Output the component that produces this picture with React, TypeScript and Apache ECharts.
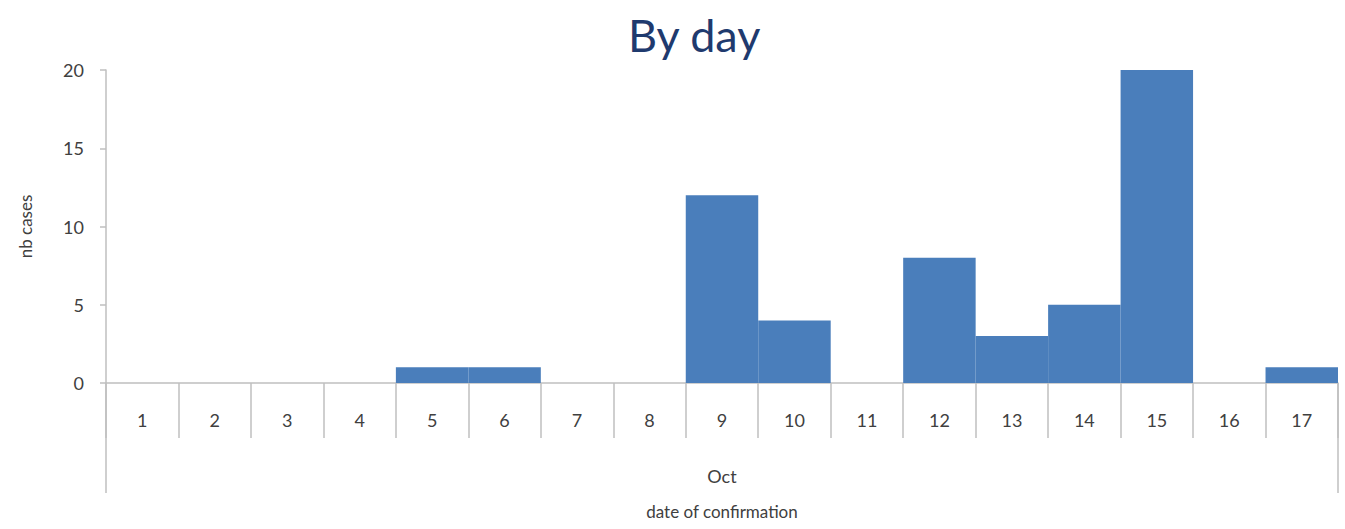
import React, { useEffect, useRef } from "react";
import * as echarts from "echarts";

const days = ["1", "2", "3", "4", "5", "6", "7", "8", "9", "10", "11", "12", "13", "14", "15", "16", "17"];
const cases = [0, 0, 0, 0, 1, 1, 0, 0, 12, 4, 0, 8, 3, 5, 20, 0, 1];
const monthGroup = ["Oct"];
const yTicks = { min: 0, max: 20, interval: 5 };

const FONT = "Lato, 'Open Sans', sans-serif";
const AXIS_GREY = "#BFBFBF";
const TEXT_GREY = "#404040";
const BAR_BLUE = "#4A7EBB";

export default function App() {
  const ref = useRef<HTMLDivElement>(null);
  useEffect(() => {
    if (!ref.current) return;
    const chart = echarts.init(ref.current, undefined, { renderer: "svg" });
    chart.setOption({
      animation: false,
      backgroundColor: "#ffffff",
      title: {
        text: "By day",
        left: 623,
        top: 7,
        textStyle: { color: "#1F3A6E", fontSize: 45, fontWeight: "normal", fontFamily: FONT },
      },
      grid: { left: 106, right: 7, top: 70, bottom: 146, containLabel: false },
      xAxis: [
        {
          type: "category",
          data: days,
          position: "bottom",
          boundaryGap: true,
          axisLine: { show: true, lineStyle: { color: AXIS_GREY, width: 1.5 } },
          axisTick: { show: true, interval: 0, length: 55, lineStyle: { color: AXIS_GREY, width: 1.5 } },
          axisLabel: { interval: 0, margin: 28, color: TEXT_GREY, fontSize: 18, fontFamily: FONT },
        },
        {
          type: "category",
          data: monthGroup,
          position: "bottom",
          boundaryGap: true,
          axisLine: { show: false },
          axisTick: { show: true, interval: 0, length: 110, lineStyle: { color: AXIS_GREY, width: 1.5 } },
          axisLabel: { interval: 0, margin: 84, color: TEXT_GREY, fontSize: 18, fontFamily: FONT },
          name: "date of confirmation",
          nameLocation: "middle",
          nameGap: 120,
          nameTextStyle: { color: TEXT_GREY, fontSize: 17, fontFamily: FONT },
        },
      ],
      yAxis: {
        type: "value",
        min: yTicks.min,
        max: yTicks.max,
        interval: yTicks.interval,
        splitLine: { show: false },
        axisLine: { show: true, lineStyle: { color: AXIS_GREY, width: 1.5 } },
        axisTick: { show: true, length: 6, lineStyle: { color: AXIS_GREY, width: 1.5 } },
        axisLabel: { margin: 22, color: TEXT_GREY, fontSize: 18, fontFamily: FONT },
        name: "nb cases",
        nameLocation: "middle",
        nameRotate: 90,
        nameGap: 72,
        nameTextStyle: { color: TEXT_GREY, fontSize: 17, fontFamily: FONT },
      },
      series: [
        {
          type: "bar",
          data: cases,
          xAxisIndex: 0,
          barCategoryGap: "0%",
          itemStyle: { color: BAR_BLUE, borderWidth: 0 },
        },
      ],
    });
    return () => chart.dispose();
  }, []);
  return <div ref={ref} style={{ width: 1345, height: 529, position: "absolute", left: 0, top: 0 }} />;
}
